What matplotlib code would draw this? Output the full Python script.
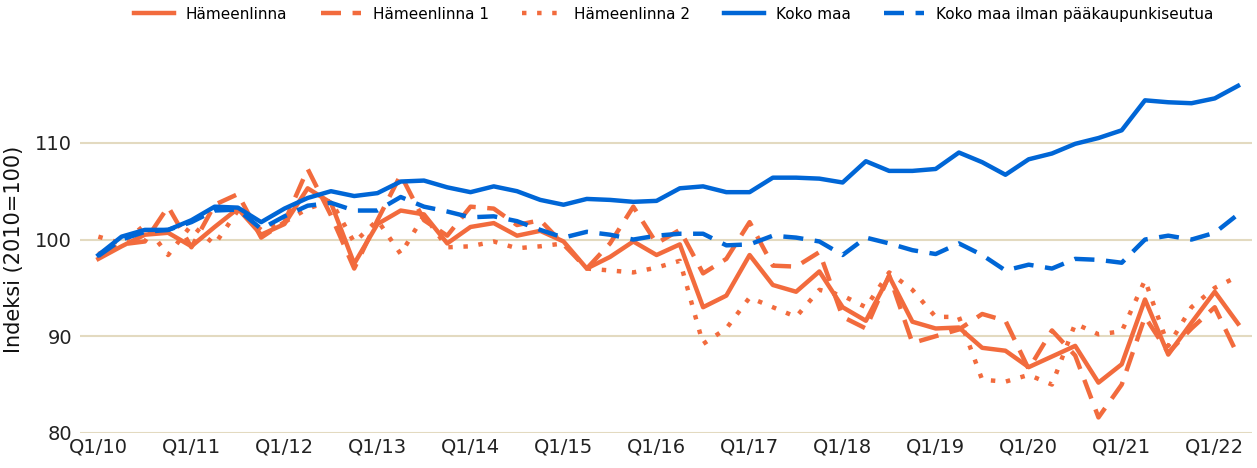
import numpy as np
import matplotlib
matplotlib.use("Agg")
import matplotlib.pyplot as plt

# data: quarterly index, Q1/10 .. Q2/22
quarters = [f"Q{q}/{y:02d}" for y in range(10, 23) for q in range(1, 5)][:50]

hameenlinna = [98.0, 99.3, 100.5, 100.7, 99.3, 101.3, 103.2, 100.5, 101.6, 105.3,
               103.8, 97.5, 101.6, 103.0, 102.6, 99.6, 101.3, 101.7, 100.4, 100.9,
               99.8, 97.0, 98.2, 99.8, 98.4, 99.5, 93.0, 94.2, 98.4, 95.3,
               94.6, 96.7, 93.0, 91.6, 96.2, 91.5, 90.8, 90.9, 88.8, 88.5,
               86.8, 87.9, 89.0, 85.2, 87.1, 93.8, 88.1, 91.4, 94.6, 91.3]

hameenlinna1 = [98.5, 99.5, 99.8, 103.4, 99.2, 103.6, 104.7, 100.2, 101.8, 107.3,
                102.5, 97.0, 102.0, 106.7, 102.0, 100.4, 103.4, 103.2, 101.5, 102.0,
                99.5, 97.0, 99.6, 103.4, 99.6, 101.0, 96.5, 98.0, 101.8, 97.3,
                97.2, 98.7, 92.0, 90.8, 96.3, 89.3, 90.0, 90.7, 92.3, 91.6,
                86.6, 90.6, 88.0, 81.6, 85.0, 92.0, 88.3, 90.8, 93.0, 88.0]

hameenlinna2 = [100.3, 99.6, 101.5, 98.4, 101.5, 99.5, 103.0, 101.0, 101.8, 103.2,
                104.0, 99.7, 102.0, 98.5, 102.5, 99.2, 99.3, 99.8, 99.1, 99.3,
                99.6, 97.0, 96.8, 96.6, 97.1, 97.8, 89.2, 90.8, 94.0, 93.0,
                92.0, 94.8, 94.2, 93.0, 96.6, 94.8, 92.0, 92.0, 85.5, 85.3,
                86.0, 85.0, 91.3, 90.2, 90.5, 95.8, 89.0, 93.0, 95.0, 96.2]

koko_maa = [98.4, 100.3, 101.0, 101.0, 102.0, 103.4, 103.3, 101.8, 103.2, 104.3,
            105.0, 104.5, 104.8, 106.0, 106.1, 105.4, 104.9, 105.5, 105.0, 104.1,
            103.6, 104.2, 104.1, 103.9, 104.0, 105.3, 105.5, 104.9, 104.9, 106.4,
            106.4, 106.3, 105.9, 108.1, 107.1, 107.1, 107.3, 109.0, 108.0, 106.7,
            108.3, 108.9, 109.9, 110.5, 111.3, 114.4, 114.2, 114.1, 114.6, 115.9]

koko_maa_ilman_pks = [98.3, 100.0, 100.8, 101.0, 101.8, 103.0, 103.1, 101.1, 102.4, 103.5,
                      103.8, 103.0, 103.0, 104.4, 103.4, 102.9, 102.3, 102.4, 101.9, 101.0,
                      100.2, 100.8, 100.5, 100.0, 100.4, 100.6, 100.6, 99.4, 99.5, 100.4,
                      100.2, 99.8, 98.4, 100.2, 99.6, 98.9, 98.5, 99.6, 98.4, 96.8,
                      97.4, 97.0, 98.0, 97.9, 97.6, 100.0, 100.4, 100.0, 100.7, 102.6]

orange = "#F26B3D"
blue = "#0066D6"
grid_c = "#E3DAC0"

x = np.arange(len(quarters))

fig = plt.figure(figsize=(12.57, 4.68), dpi=100)
ax = fig.add_axes([0.064, 0.075, 0.932, 0.785])

lw = 3.2
l1, = ax.plot(x, hameenlinna, color=orange, lw=lw)
l2, = ax.plot(x, hameenlinna1, color=orange, lw=lw, dashes=(4.5, 2.6), dash_capstyle="butt")
l3, = ax.plot(x, hameenlinna2, color=orange, lw=lw, dashes=(1.0, 2.4), dash_capstyle="butt")
l4, = ax.plot(x, koko_maa, color=blue, lw=lw)
l5, = ax.plot(x, koko_maa_ilman_pks, color=blue, lw=lw, dashes=(4.5, 2.6), dash_capstyle="butt")

ax.set_xlim(-0.77, 49.6)
ax.set_ylim(80, 118)
ax.set_yticks([80, 90, 100, 110])
ax.set_xticks(x[::4])
ax.set_xticklabels(quarters[::4])
ax.grid(axis="y", color=grid_c, lw=1.5)
ax.set_axisbelow(True)
for s in ax.spines.values():
    s.set_visible(False)
ax.tick_params(length=0, labelsize=14, colors="#222222", pad=6)
ax.tick_params(axis="x", pad=3)
ax.set_ylabel("Indeksi (2010=100)", fontsize=15, color="#111111", labelpad=8)

fig.legend([l1, l2, l3, l4, l5],
           ["Hämeenlinna", "Hämeenlinna 1", "Hämeenlinna 2", "Koko maa",
            "Koko maa ilman pääkaupunkiseutua"],
           loc="upper center", bbox_to_anchor=(0.536, 1.015), ncol=5, frameon=False,
           fontsize=11, handlelength=2.6, columnspacing=2.2, handletextpad=0.8)

fig.savefig("out.png", dpi=100)
